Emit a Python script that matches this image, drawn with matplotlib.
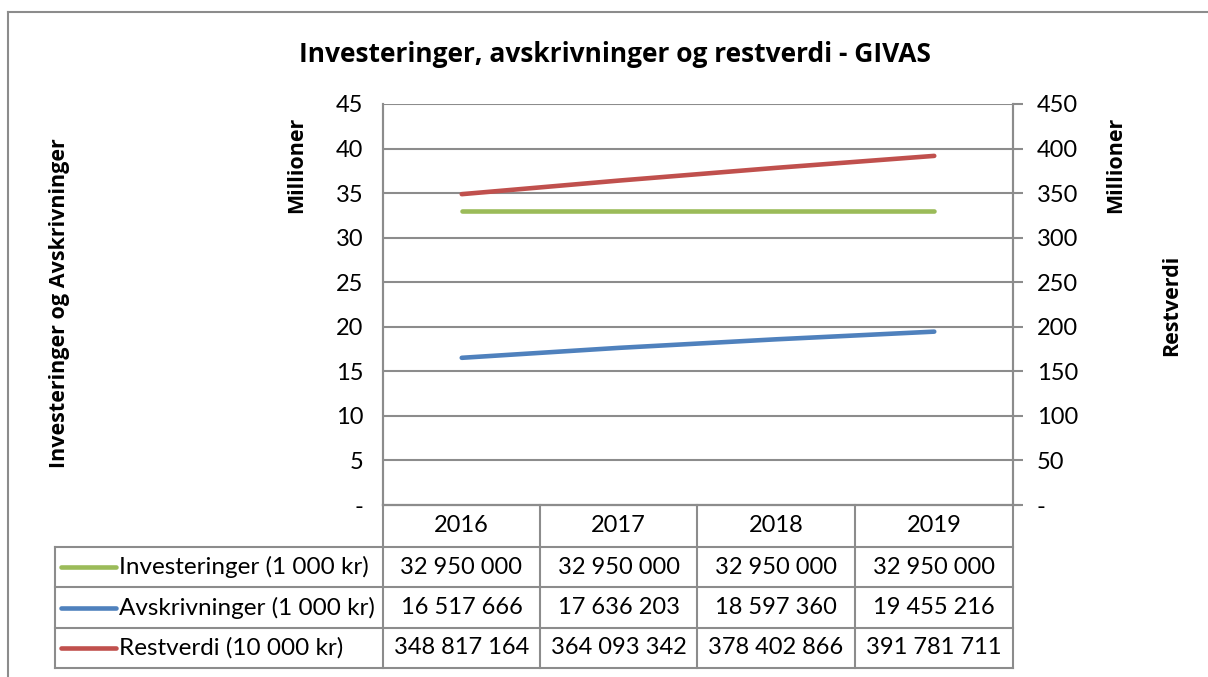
import matplotlib
matplotlib.use("Agg")
import matplotlib.pyplot as plt
from matplotlib.lines import Line2D

# Data (verdier som i tabellen)
years = ["2016", "2017", "2018", "2019"]
investeringer = [32950000, 32950000, 32950000, 32950000]      # 1 000 kr
avskrivninger = [16517666, 17636203, 18597360, 19455216]      # 1 000 kr
restverdi = [348817164, 364093342, 378402866, 391781711]      # 10 000 kr

series_names = ["Investeringer (1 000 kr)", "Avskrivninger (1 000 kr)", "Restverdi (10 000 kr)"]
left_ticks = [0, 5, 10, 15, 20, 25, 30, 35, 40, 45]
right_ticks = [0, 50, 100, 150, 200, 250, 300, 350, 400, 450]

green = "#9BBB59"
blue = "#4F81BD"
red = "#C0504D"
grid = "#8C8C8C"

plt.rcParams['font.family'] = ['Lato', 'DejaVu Sans']
bold_font = ['Open Sans', 'DejaVu Sans']

W, H = 1208, 677
fig = plt.figure(figsize=(W / 100, H / 100), dpi=100)


def fx(x):
    return x / W


def fy(y):
    return 1 - y / H


# plot area in pixels
x0, x1, y0, y1 = 383, 1013, 104, 505
ax = fig.add_axes([fx(x0), fy(y1), fx(x1) - fx(x0), fy(y0) - fy(y1)])
ax2 = ax.twinx()

xs = list(range(len(years)))
ax.plot(xs, [v / 1e6 for v in investeringer], color=green, lw=3.3, solid_capstyle='round', zorder=3)
ax.plot(xs, [v / 1e6 for v in avskrivninger], color=blue, lw=3.3, solid_capstyle='round', zorder=3)
ax2.plot(xs, [v / 1e6 for v in restverdi], color=red, lw=3.3, solid_capstyle='round', zorder=3)

ax.set_xlim(-0.5, len(years) - 0.5)
ax.set_ylim(0, 45)
ax2.set_ylim(0, 450)
ax.set_yticks(left_ticks)
ax.set_yticklabels(["-" if t == 0 else str(t) for t in left_ticks])
ax2.set_yticks(right_ticks)
ax2.set_yticklabels(["-" if t == 0 else str(t) for t in right_ticks])
ax.set_xticks([])

for t in left_ticks[1:]:
    ax.axhline(t, color=grid, lw=1.5, zorder=1)

ax.tick_params(axis='y', length=0, labelsize=17, pad=14)
ax2.tick_params(axis='y', length=7, width=1.5, color=grid, labelsize=17, pad=10)
for a in (ax, ax2):
    a.spines['top'].set_visible(False)
    for s in ('left', 'right', 'bottom'):
        a.spines[s].set_color(grid)
        a.spines[s].set_linewidth(1.5)
    a.patch.set_visible(False)

# title and axis labels
fig.text(fx(615), fy(55), "Investeringer, avskrivninger og restverdi - GIVAS",
         ha='center', va='center', fontsize=19, fontweight='bold', family=bold_font)
fig.text(fx(60), fy(303), "Investeringer og Avskrivninger", rotation=90,
         ha='center', va='center', fontsize=15.5, fontweight='bold', family=bold_font)
fig.text(fx(297), fy(165), "Millioner", rotation=90, ha='center', va='center',
         fontsize=15.5, fontweight='bold', family=bold_font)
fig.text(fx(1116), fy(165), "Millioner", rotation=90, ha='center', va='center',
         fontsize=15.5, fontweight='bold', family=bold_font)
fig.text(fx(1172), fy(305), "Restverdi", rotation=90, ha='center', va='center',
         fontsize=15.5, fontweight='bold', family=bold_font)

# outer chart border
fig.add_artist(Line2D([fx(8), fx(8)], [fy(12), fy(677)], color=grid, lw=1.5))
fig.add_artist(Line2D([fx(8), fx(1208)], [fy(12), fy(12)], color=grid, lw=1.5))

# data table
col_x = [383, 540, 697, 855, 1013]
row_y = [505, 547, 587, 628, 668]
label_x0 = 55


def hline(xa, xb, y):
    fig.add_artist(Line2D([fx(xa), fx(xb)], [fy(y), fy(y)], color=grid, lw=1.5))


def vline(x, ya, yb):
    fig.add_artist(Line2D([fx(x), fx(x)], [fy(ya), fy(yb)], color=grid, lw=1.5))


hline(x0, 1020, row_y[0])
hline(x0, x1, row_y[1])
for y in row_y[2:]:
    hline(label_x0, x1, y)
hline(label_x0, x0, row_y[1])
for x in col_x:
    vline(x, row_y[0], row_y[-1])
vline(label_x0, row_y[1], row_y[-1])

for i, yr in enumerate(years):
    fig.text(fx((col_x[i] + col_x[i + 1]) / 2), fy((row_y[0] + row_y[1]) / 2), yr,
             ha='center', va='center', fontsize=17)

table_rows = [investeringer, avskrivninger, restverdi]
colors = [green, blue, red]
for r, (name, vals, c) in enumerate(zip(series_names, table_rows, colors)):
    yc = (row_y[r + 1] + row_y[r + 2]) / 2
    fig.add_artist(Line2D([fx(61), fx(116)], [fy(yc), fy(yc)], color=c, lw=3.3,
                          solid_capstyle='round'))
    fig.text(fx(119), fy(yc), name, ha='left', va='center', fontsize=17.5)
    for i, v in enumerate(vals):
        fig.text(fx((col_x[i] + col_x[i + 1]) / 2), fy(yc), f"{v:,}".replace(",", " "),
                 ha='center', va='center', fontsize=17)

fig.savefig("out.png", dpi=100)
